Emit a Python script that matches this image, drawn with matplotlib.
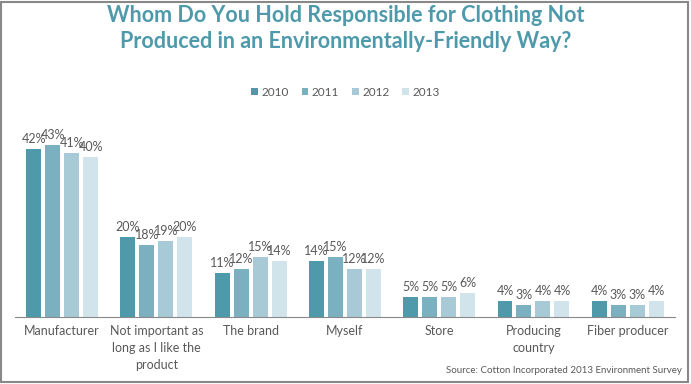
import matplotlib.pyplot as plt
import numpy as np
from matplotlib.patches import Rectangle

plt.rcParams['font.family'] = ['Lato', 'DejaVu Sans']

# data
categories = ['Manufacturer', 'Not important as\nlong as I like the\nproduct', 'The brand',
              'Myself', 'Store', 'Producing\ncountry', 'Fiber producer']
years = ['2010', '2011', '2012', '2013']
v2010 = [42, 20, 11, 14, 5, 4, 4]
v2011 = [43, 18, 12, 15, 5, 3, 3]
v2012 = [41, 19, 15, 12, 5, 4, 3]
v2013 = [40, 20, 14, 12, 6, 4, 4]
series = [v2010, v2011, v2012, v2013]
colors = ['#4e9aab', '#7bb0c1', '#a7cad6', '#d2e4eb']

fig = plt.figure(figsize=(6.91, 3.84), dpi=100)
ax = fig.add_axes([0.0217, 0.1745, 0.955, 0.5208])

x = np.arange(len(categories))
pitch = 0.2015
width = 0.159
for i, vals in enumerate(series):
    pos = x + (i - 1.5) * pitch
    ax.bar(pos, vals, width, color=colors[i], label=years[i])
    for p, v in zip(pos, vals):
        ax.annotate(f'{v}%', (p, v), xytext=(0, 3), textcoords='offset points',
                    ha='center', va='bottom', fontsize=9, color='#595959')

ax.set_xlim(-0.5, len(categories) - 0.5)
ax.set_ylim(0, 50)
ax.set_yticks([])
ax.set_xticks(x)
ax.set_xticklabels(categories, fontsize=9, color='#595959', linespacing=1.5)
ax.tick_params(axis='x', length=0, pad=6)
for s in ['top', 'right', 'left']:
    ax.spines[s].set_visible(False)
ax.spines['bottom'].set_color('#898989')

fig.text(0.5, 0.925, 'Whom Do You Hold Responsible for Clothing Not\nProduced in an Environmentally-Friendly Way?',
         ha='center', va='center', fontsize=15.5, fontweight='bold', color='#4e9aab',
         linespacing=1.3)

fig.legend(loc='center', bbox_to_anchor=(0.5, 0.76), ncol=4, frameon=False,
           fontsize=8.5, handlelength=0.55, handleheight=0.55, handletextpad=0.3,
           columnspacing=1.1, labelcolor='#595959')

fig.text(0.987, 0.036, 'Source: Cotton Incorporated 2013 Environment Survey',
         ha='right', va='center', fontsize=7, color='#595959')

fig.patches.append(Rectangle((0.002, 0.004), 0.994, 0.992, transform=fig.transFigure,
                             fill=False, edgecolor='#888888', linewidth=1.5))

fig.savefig('out.png', dpi=100)
